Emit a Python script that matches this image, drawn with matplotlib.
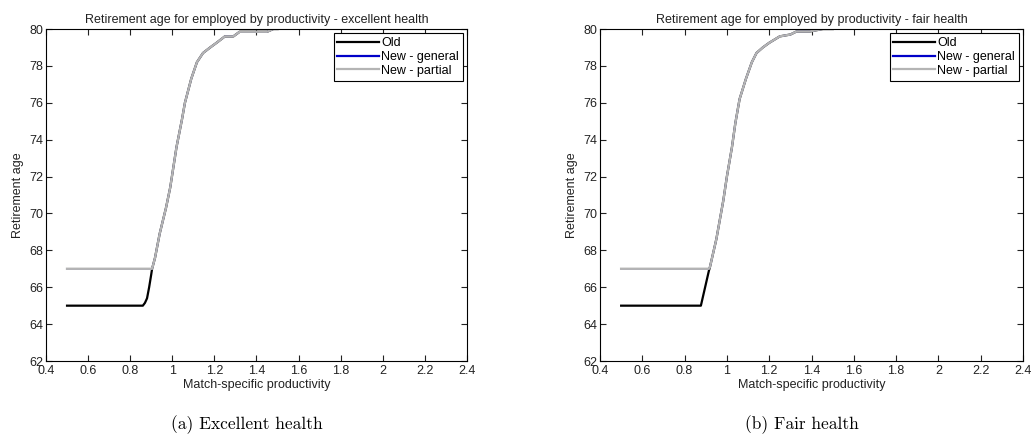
import numpy as np
import matplotlib.pyplot as plt

# match-specific productivity grid and retirement ages
x_excellent = [0.5, 0.7, 0.86, 0.87, 0.88, 0.89, 0.9, 0.904, 0.918, 0.94, 0.97, 0.99,
               1.02, 1.046, 1.06, 1.09, 1.117, 1.146, 1.18, 1.21, 1.25, 1.29, 1.32,
               1.45, 1.48, 1.5]
old_excellent = [65, 65, 65, 65.15, 65.4, 66.0, 66.7, 67.0, 67.6, 68.9, 70.3, 71.4,
                 73.6, 75.1, 76.0, 77.3, 78.2, 78.7, 79.0, 79.25, 79.6, 79.6, 79.85,
                 79.85, 80, 80]
partial_excellent = [67, 67, 67, 67, 67, 67, 67, 67, 67.6, 68.9, 70.3, 71.4,
                     73.6, 75.1, 76.0, 77.3, 78.2, 78.7, 79.0, 79.25, 79.6, 79.6, 79.85,
                     79.85, 80, 80]
general_excellent = partial_excellent

x_fair = [0.5, 0.7, 0.877, 0.895, 0.915, 0.92, 0.95, 0.983, 1.0, 1.024, 1.04, 1.06,
          1.09, 1.118, 1.14, 1.17, 1.2, 1.25, 1.3, 1.33, 1.393, 1.454, 1.5]
old_fair = [65, 65, 65, 65.9, 66.9, 67.1, 68.6, 70.7, 72.0, 73.6, 74.9, 76.2,
            77.3, 78.2, 78.7, 79.0, 79.25, 79.6, 79.7, 79.87, 79.87, 80, 80]
partial_fair = [67, 67, 67, 67, 67, 67.1, 68.6, 70.7, 72.0, 73.6, 74.9, 76.2,
                77.3, 78.2, 78.7, 79.0, 79.25, 79.6, 79.7, 79.87, 79.87, 80, 80]
general_fair = partial_fair

titles = ["Retirement age for employed by productivity - excellent health",
          "Retirement age for employed by productivity - fair health"]
captions = ["(a) Excellent health", "(b) Fair health"]

plt.rcParams['font.family'] = ['Liberation Sans', 'DejaVu Sans']
plt.rcParams['font.size'] = 9

fig = plt.figure(figsize=(10.32, 4.48), dpi=100)
ax1 = fig.add_axes([46/1032, 87/448, 421/1032, 332/448])
ax2 = fig.add_axes([600/1032, 87/448, 423/1032, 332/448])

panels = [(ax1, x_excellent, old_excellent, general_excellent, partial_excellent),
          (ax2, x_fair, old_fair, general_fair, partial_fair)]

for i, (ax, x, old, gen, part) in enumerate(panels):
    ax.plot(x, old, color="black", lw=1.6, label="Old")
    ax.plot(x, gen, color="#0000c8", lw=1.0, label="New - general")
    ax.plot(x, part, color="#b4b4b4", lw=1.7, label="New - partial")
    ax.set_xlim(0.4, 2.4)
    ax.set_ylim(62, 80)
    ax.set_xticks(np.arange(0.4, 2.41, 0.2))
    ax.set_xticklabels(["0.4", "0.6", "0.8", "1", "1.2", "1.4", "1.6", "1.8", "2", "2.2", "2.4"])
    ax.set_yticks(np.arange(62, 81, 2))
    ax.tick_params(direction="in", top=True, right=True, length=4, width=0.8,
                   labelsize=9, colors="#222222")
    ax.tick_params(axis="x", pad=3)
    ax.tick_params(axis="y", pad=2)
    for s in ax.spines.values():
        s.set_linewidth(0.8)
    ax.set_title(titles[i], fontsize=9, pad=4, color="#222222")
    ax.set_xlabel("Match-specific productivity", fontsize=9, labelpad=1, color="#222222")
    ax.set_ylabel("Retirement age", fontsize=9, labelpad=4, color="#222222")
    leg = ax.legend(loc="upper right", fancybox=False, edgecolor="black", framealpha=1,
                    handlelength=3.3, handletextpad=0.2, borderaxespad=0.35,
                    borderpad=0.3, labelspacing=0.15, fontsize=9)
    leg.get_frame().set_linewidth(0.8)
    # legend handles drawn at the same width
    for h in leg.get_lines():
        h.set_linewidth(1.6)

fig.text(247/1032, 0.052, captions[0], fontfamily="cmr10", fontsize=12.5, ha="center", va="center")
fig.text(802/1032, 0.052, captions[1], fontfamily="cmr10", fontsize=12.5, ha="center", va="center")

fig.savefig("out.png", dpi=100)
